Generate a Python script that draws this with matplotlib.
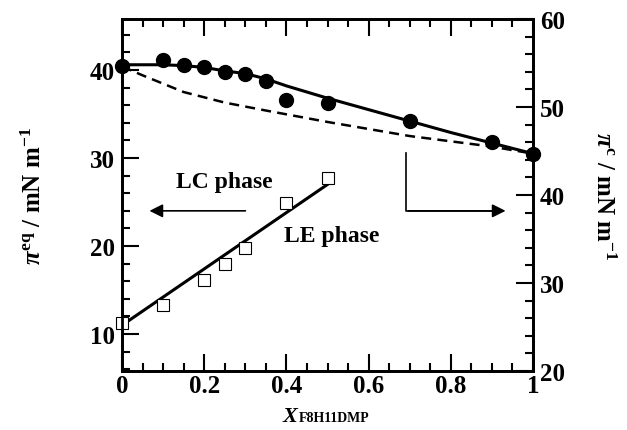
import numpy as np
import matplotlib
matplotlib.use('Agg')
import matplotlib.pyplot as plt
from matplotlib.ticker import MultipleLocator

plt.rcParams['font.family'] = 'Liberation Serif'
plt.rcParams['font.weight'] = 'bold'
plt.rcParams['axes.labelweight'] = 'bold'
plt.rcParams['mathtext.fontset'] = 'custom'
plt.rcParams['mathtext.rm'] = 'Liberation Serif'
plt.rcParams['mathtext.it'] = 'Liberation Serif:italic'
plt.rcParams['mathtext.bf'] = 'Liberation Serif:bold'

# collapse pressure (right axis), filled circles
x_c = [0, 0.1, 0.15, 0.2, 0.25, 0.3, 0.35, 0.4, 0.5, 0.7, 0.9, 1.0]
pi_c = [54.7, 55.3, 54.8, 54.55, 54.0, 53.8, 52.9, 50.8, 50.4, 48.4, 46.0, 44.7]

# solid curve (right axis)
x_fit = [0, 0.1, 0.15, 0.2, 0.25, 0.3, 0.35, 0.4, 0.5, 0.6, 0.7, 0.8, 0.9, 1.0]
pi_fit = [54.8, 54.8, 54.7, 54.5, 54.1, 53.8, 53.2, 52.4, 51.0, 49.7, 48.4, 47.1, 45.9, 44.7]

# dashed curve (right axis)
x_ideal = [0, 0.05, 0.15, 0.25, 0.35, 0.5, 0.7, 0.9, 1.0]
pi_ideal = [54.6, 53.6, 51.7, 50.5, 49.6, 48.3, 46.7, 45.5, 44.7]

# equilibrium spreading pressure (left axis), open squares
x_eq = [0, 0.1, 0.2, 0.25, 0.3, 0.4, 0.5]
pi_eq = [11.3, 13.3, 16.1, 18.0, 19.8, 24.9, 27.7]

# straight line through squares
x_line = [0, 0.5]
pi_line = [11.0, 27.0]

fig = plt.figure(figsize=(6.27, 4.31), dpi=100)
ax = fig.add_axes([0.1946, 0.1369, 0.6555, 0.8167])
ax2 = ax.twinx()

ax.plot(x_line, pi_line, color='black', lw=2.2, zorder=2)
ax.plot(x_eq, pi_eq, 's', ms=9, mfc='white', mec='black', mew=0.8, zorder=3, clip_on=False)

ax2.plot(x_fit, pi_fit, color='black', lw=2.2)
ax2.plot(x_ideal, pi_ideal, color='black', lw=1.8, ls=(0, (4, 2.5)))
ax2.plot(x_c, pi_c, 'o', ms=10, color='black', clip_on=False, zorder=4)

ax.set_xlim(0, 1)
ax.set_ylim(5.8, 45.8)
ax2.set_ylim(20, 60)

ax.xaxis.set_major_locator(MultipleLocator(0.2))
ax.xaxis.set_minor_locator(MultipleLocator(0.05))
ax.yaxis.set_major_locator(MultipleLocator(10))
ax.yaxis.set_minor_locator(MultipleLocator(2))
ax2.yaxis.set_major_locator(MultipleLocator(10))
ax2.yaxis.set_minor_locator(MultipleLocator(2))


def xfmt(v, p):
    if abs(v) < 1e-6:
        return '0'
    if abs(v - 1) < 1e-6:
        return '1'
    return '%.1f' % v


ax.xaxis.set_major_formatter(plt.FuncFormatter(xfmt))

for a in (ax, ax2):
    for s in a.spines.values():
        s.set_linewidth(2)
ax.tick_params(which='both', direction='in', top=True, right=False, width=1.5, labelsize=18)
ax.tick_params(axis='x', pad=2)
ax.tick_params(axis='y', pad=5)
ax.tick_params(which='major', length=12)
ax.tick_params(which='minor', length=6)
ax2.tick_params(which='both', direction='in', width=1.5, labelsize=18, pad=5)
ax2.tick_params(which='major', length=12)
ax2.tick_params(which='minor', length=6)

ax.set_ylabel(r'$\pi^{\rm eq}$ / mN m$^{-1}$', fontsize=18, labelpad=32)
ax2.set_ylabel(r'$\pi^{\rm c}$ / mN m$^{-1}$', fontsize=18, rotation=-90, labelpad=36)

# x label: big bold italic X with small subscript
fig.text(0.450, 0.02, 'X', fontsize=16, fontstyle='italic', fontweight='bold', ha='left', va='baseline')
fig.text(0.476, 0.02, 'F8H11DMP', fontsize=10, fontweight='bold', ha='left', va='baseline')

ax.annotate('', xy=(0.06, 24.0), xytext=(0.307, 24.0),
            arrowprops=dict(arrowstyle='-|>', color='black', lw=1.2, mutation_scale=20))
ax.plot([0.69, 0.69, 0.90], [30.6, 24.0, 24.0], color='black', lw=1.2)
ax.annotate('', xy=(0.94, 24.0), xytext=(0.69, 24.0),
            arrowprops=dict(arrowstyle='-|>', color='black', lw=1.2, mutation_scale=20))
ax.text(0.25, 27.3, 'LC phase', ha='center', va='center', fontsize=17)
ax.text(0.51, 21.2, 'LE phase', ha='center', va='center', fontsize=17)

fig.savefig('out.png', dpi=100)
